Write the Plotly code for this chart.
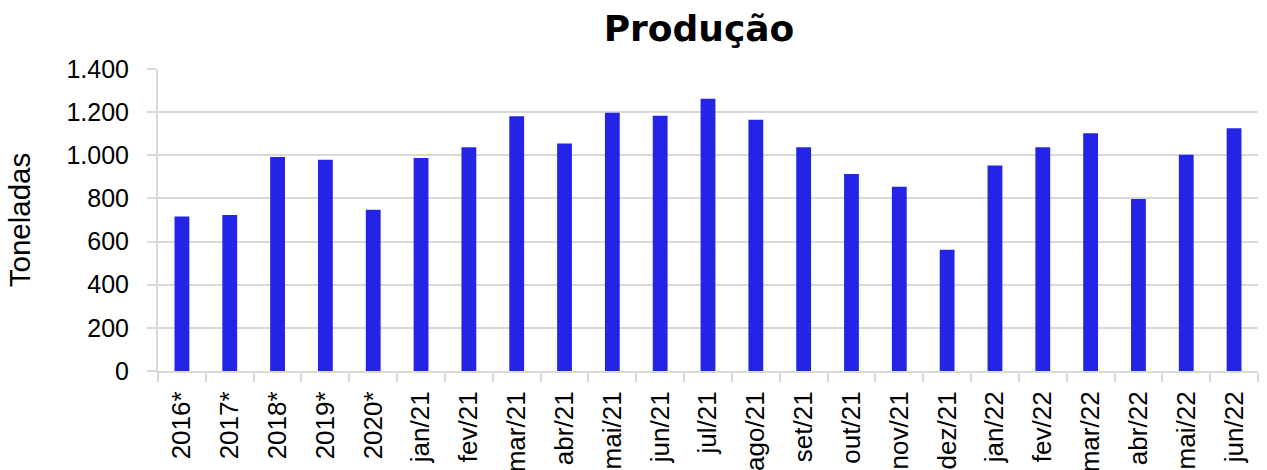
import plotly.graph_objects as go

categories = ["2016*", "2017*", "2018*", "2019*", "2020*",
              "jan/21", "fev/21", "mar/21", "abr/21", "mai/21", "jun/21",
              "jul/21", "ago/21", "set/21", "out/21", "nov/21", "dez/21",
              "jan/22", "fev/22", "mar/22", "abr/22", "mai/22", "jun/22"]
values = [716, 723, 992, 979, 747,
          987, 1037, 1181, 1055, 1197, 1183,
          1262, 1165, 1037, 913, 854, 562,
          953, 1037, 1102, 797, 1003, 1125]
y_ticks = [0, 200, 400, 600, 800, 1000, 1200, 1400]
y_tick_labels = ["0", "200", "400", "600", "800", "1.000", "1.200", "1.400"]

FONT = "Liberation Sans, Arial, sans-serif"
TITLE_FONT = "DejaVu Sans, Verdana, sans-serif"
GRID = "#d9d9d9"

fig = go.Figure(go.Bar(
    x=categories, y=values,
    marker=dict(color="#2424E6", line=dict(width=0)),
    width=0.31,
))

fig.update_layout(
    width=1267, height=470,
    margin=dict(l=158, r=9, t=69, b=99),
    paper_bgcolor="white", plot_bgcolor="white",
    title=dict(text="<b>Produção</b>", x=699 / 1267, xanchor="center",
               y=1 - 28 / 470, yanchor="middle",
               font=dict(family=TITLE_FONT, size=36, color="black")),
    showlegend=False,
    font=dict(family=FONT, color="black"),
)

fig.update_xaxes(
    type="category",
    tickangle=-90,
    tickfont=dict(family=FONT, size=26, color="black"),
    ticklabelstandoff=8,
    showline=True, linecolor=GRID, linewidth=2,
    ticks="outside", tickson="boundaries", ticklen=9, tickcolor=GRID, tickwidth=2,
    showgrid=False,
    automargin=False,
)

fig.update_yaxes(
    range=[0, 1400],
    tickvals=y_ticks, ticktext=y_tick_labels,
    tickfont=dict(family=FONT, size=25, color="black"),
    ticklabelstandoff=13,
    showgrid=True, gridcolor=GRID, gridwidth=2,
    showline=True, linecolor=GRID, linewidth=2,
    ticks="outside", ticklen=9, tickcolor=GRID, tickwidth=2,
    zeroline=False,
    title=dict(text="Toneladas", font=dict(family=FONT, size=29.5, color="black"), standoff=27),
    automargin=False,
)

fig.write_html(
    "out.html",
    config={"displayModeBar": False},
    post_script="document.body.style.margin='0';document.body.style.overflow='hidden';",
)
